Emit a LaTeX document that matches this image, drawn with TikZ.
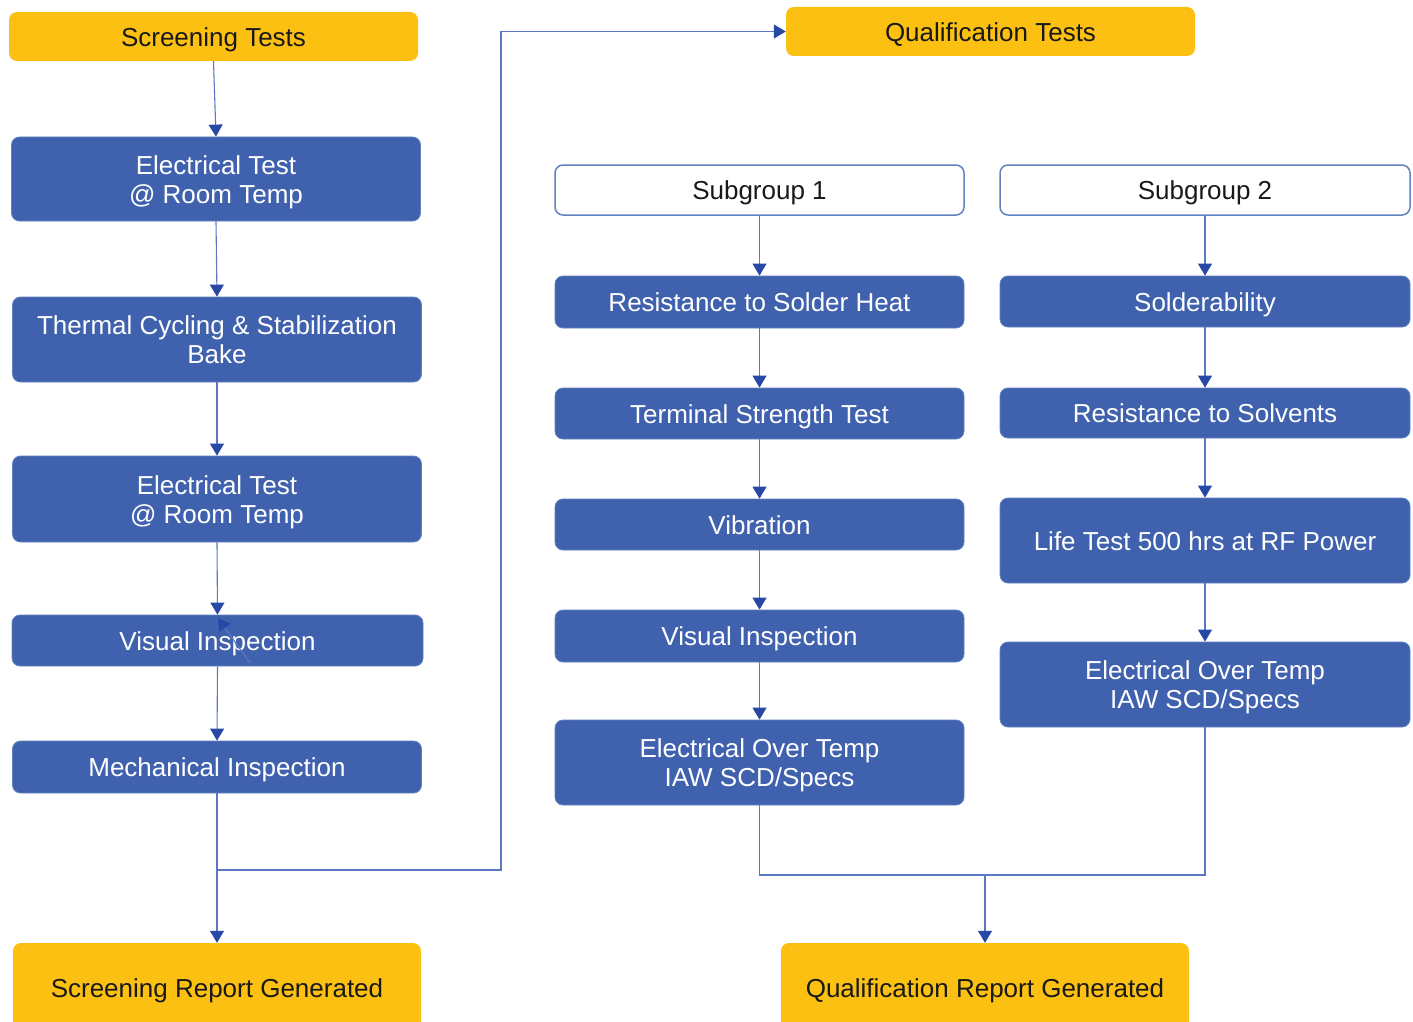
\documentclass[tikz,border=0pt]{standalone}
\usepackage{fontspec}
\setmainfont{Liberation Sans}
\usetikzlibrary{arrows.meta}
\definecolor{boxblue}{RGB}{64,98,174}
\definecolor{boxedge}{RGB}{96,130,190}
\definecolor{tabyellow}{RGB}{252,192,18}
\definecolor{linkblue}{RGB}{90,120,195}
\definecolor{tipblue}{RGB}{40,72,165}
% box text: centred lines, set a little below the geometric middle
\newcommand\boxtext[1]{\raisebox{-4pt}[\height][\depth]{\begin{tabular}{@{}c@{}}#1\end{tabular}}}
\tikzset{
  x=1pt, y=-1pt,
  base/.style={rounded corners=8pt, align=center, inner sep=0pt,
    font=\fontsize{26}{29}\selectfont, minimum width=409pt},
  stepbox/.style={base, fill=boxblue, draw=boxedge, line width=0.8pt, text=white},
  headbox/.style={base, fill=tabyellow, draw=none, text=black!90},
  groupbox/.style={base, fill=white, draw=boxedge, line width=1.5pt, text=black!90},
  link/.style={draw=linkblue, line width=1.1pt},
  arr/.style={link, -{Triangle[length=12pt,width=14pt,fill=tipblue,color=tipblue]}}
}
\begin{document}
\begin{tikzpicture}
\useasboundingbox (0,0) rectangle (1413,1022);
\fill[white] (0,0) rectangle (1413,1022);

% screening column
\node[headbox, minimum height=49pt] (st) at (213.5,36.5) {\boxtext{Screening Tests}};
\node[stepbox, minimum height=84pt] (e1) at (216,179) {\boxtext{Electrical Test\\@ Room Temp}};
\node[stepbox, minimum height=85pt] (tc) at (217,339.5) {\boxtext{Thermal Cycling \& Stabilization\\Bake}};
\node[stepbox, minimum height=86pt] (e2) at (217,499) {\boxtext{Electrical Test\\@ Room Temp}};
\node[stepbox, minimum height=51pt, minimum width=411pt] (vi) at (217.5,640.5) {\boxtext{Visual Inspection}};
\node[stepbox, minimum height=52pt] (mi) at (217,767) {\boxtext{Mechanical Inspection}};
\node[headbox, minimum height=90pt, minimum width=408pt] (sr) at (217,988) {\boxtext{Screening Report Generated}};

% qualification header
\node[headbox, minimum height=49pt] (qt) at (990.5,31.5) {\boxtext{Qualification Tests}};

% subgroup 1
\node[groupbox, minimum height=50pt] (sg1) at (759.5,190) {\boxtext{Subgroup 1}};
\node[stepbox, minimum height=52pt] (rsh) at (759.5,302) {\boxtext{Resistance to Solder Heat}};
\node[stepbox, minimum height=51pt] (tst) at (759.5,413.5) {\boxtext{Terminal Strength Test}};
\node[stepbox, minimum height=51pt] (vib) at (759.5,524.5) {\boxtext{Vibration}};
\node[stepbox, minimum height=52pt] (vi2) at (759.5,636) {\boxtext{Visual Inspection}};
\node[stepbox, minimum height=85pt] (eo1) at (759.5,762.5) {\boxtext{Electrical Over Temp\\IAW SCD/Specs}};

% subgroup 2
\node[groupbox, minimum height=50pt, minimum width=410pt] (sg2) at (1205,190) {\boxtext{Subgroup 2}};
\node[stepbox, minimum height=51pt, minimum width=410pt] (sol) at (1205,301.5) {\boxtext{Solderability}};
\node[stepbox, minimum height=50pt, minimum width=410pt] (rsv) at (1205,413) {\boxtext{Resistance to Solvents}};
\node[stepbox, minimum height=85pt, minimum width=410pt] (lt) at (1205,540.5) {\boxtext{Life Test 500 hrs at RF Power}};
\node[stepbox, minimum height=85pt, minimum width=410pt] (eo2) at (1205,684.5) {\boxtext{Electrical Over Temp\\IAW SCD/Specs}};

\node[headbox, minimum height=90pt, minimum width=408pt] (qr) at (985,988) {\boxtext{Qualification Report Generated}};

% screening flow
\draw[arr] (st.south) -- (e1.north);
\draw[arr] (e1.south) -- (tc.north);
\draw[arr] (tc.south) -- (e2.north);
\draw[arr] (e2.south) -- (vi.north);
\draw[arr] (vi.south) -- (mi.north);
\draw[arr] (mi.south) -- (sr.north);
\coordinate (sj) at (217,870);
\coordinate (sturn) at (501,870);
\draw[arr] (sj) -- (sturn) |- (qt.west);
\coordinate (sa) at (250,663);
\coordinate (sb) at (218,618);
\draw[arr] (sa) -- (sb);

% subgroup 1 flow
\draw[arr] (sg1.south) -- (rsh.north);
\draw[arr] (rsh.south) -- (tst.north);
\draw[arr] (tst.south) -- (vib.north);
\draw[arr] (vib.south) -- (vi2.north);
\draw[arr] (vi2.south) -- (eo1.north);

% subgroup 2 flow
\draw[arr] (sg2.south) -- (sol.north);
\draw[arr] (sol.south) -- (rsv.north);
\draw[arr] (rsv.south) -- (lt.north);
\draw[arr] (lt.south) -- (eo2.north);

% merge into the report
\coordinate (qj) at (985,875);
\draw[link] (eo1.south) |- (qj);
\draw[link] (eo2.south) |- (qj);
\draw[arr] (qj) -- (qr.north);
\end{tikzpicture}
\end{document}
